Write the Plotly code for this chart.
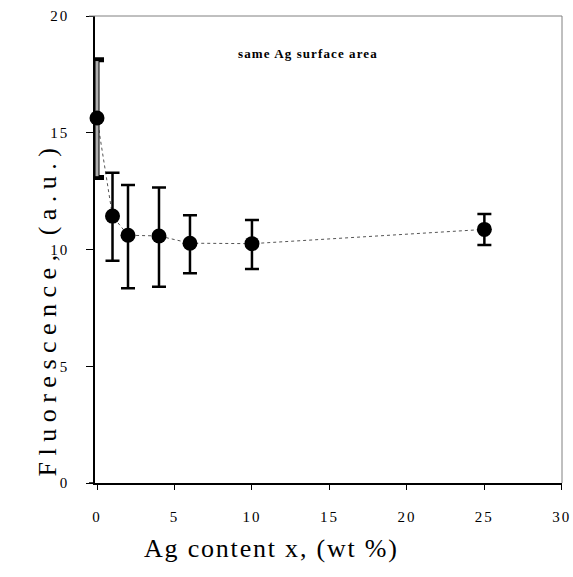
import plotly.graph_objects as go

ag_content = [0, 1, 2, 4, 6, 10, 25]
fluorescence = [15.63, 11.43, 10.61, 10.58, 10.27, 10.25, 10.86]
err_plus = [2.5, 1.86, 2.15, 2.08, 1.2, 1.01, 0.66]
err_minus = [2.55, 1.91, 2.27, 2.17, 1.29, 1.09, 0.67]

x_ticks = [0, 5, 10, 15, 20, 25, 30]
y_ticks = [0, 5, 10, 15, 20]

serif = "Liberation Serif, Times New Roman, serif"


def spaced(s, px):
    return f'<span style="letter-spacing:{px}px">{s}</span>'


fig = go.Figure()

# dotted connecting line
fig.add_trace(go.Scatter(
    x=ag_content, y=fluorescence, mode="lines",
    line=dict(color="#555555", width=1, dash="dot"),
    hoverinfo="skip", showlegend=False))

# first bar sits on the y axis -> grey bar with black edges, clipped at the axis
fig.add_trace(go.Scatter(
    x=ag_content[:1], y=fluorescence[:1], mode="markers",
    marker=dict(color="rgba(0,0,0,0)", size=1),
    error_y=dict(type="data", symmetric=False, array=err_plus[:1], arrayminus=err_minus[:1],
                 color="black", thickness=5, width=7),
    hoverinfo="skip", showlegend=False))
fig.add_trace(go.Scatter(
    x=ag_content[:1], y=fluorescence[:1], mode="markers",
    marker=dict(color="rgba(0,0,0,0)", size=1),
    error_y=dict(type="data", symmetric=False, array=[err_plus[0] - 0.06],
                 arrayminus=[err_minus[0] - 0.06],
                 color="#b0b0b0", thickness=3, width=0),
    hoverinfo="skip", showlegend=False))

# error bars + markers
fig.add_trace(go.Scatter(
    x=ag_content[1:], y=fluorescence[1:], mode="markers",
    marker=dict(color="black", size=15),
    error_y=dict(type="data", symmetric=False, array=err_plus[1:], arrayminus=err_minus[1:],
                 color="black", thickness=2.5, width=7),
    showlegend=False))
fig.add_trace(go.Scatter(
    x=ag_content[:1], y=fluorescence[:1], mode="markers",
    marker=dict(color="black", size=15), cliponaxis=False, showlegend=False))

fig.update_layout(
    width=573, height=577,
    margin=dict(l=95, r=11, t=16, b=94),
    plot_bgcolor="white", paper_bgcolor="white",
    font=dict(family=serif, color="black", size=15),
    xaxis=dict(range=[-0.13, 30.01], tickvals=x_ticks,
               ticktext=[spaced(v, 2) for v in x_ticks],
               ticks="outside", ticklen=5, automargin=False,
               tickcolor="black", showline=True, linecolor="black", linewidth=1.5,
               showgrid=False, zeroline=False, ticklabelstandoff=14),
    yaxis=dict(range=[0, 20], tickvals=y_ticks,
               ticktext=[spaced(v, 2) for v in y_ticks],
               ticks="outside", ticklen=7, automargin=False,
               tickcolor="black", showline=True, linecolor="black", linewidth=1.5,
               showgrid=False, zeroline=False, ticklabelstandoff=14),
)

ext = -6 / 467
fig.add_shape(type="line", xref="paper", yref="paper", x0=ext, x1=1, y0=1, y1=1,
              line=dict(color="#808080", width=1))
fig.add_shape(type="line", xref="paper", yref="paper", x0=1, x1=1, y0=0, y1=1,
              line=dict(color="#808080", width=1))
fig.add_shape(type="line", xref="paper", yref="paper", x0=ext, x1=0, y0=0, y1=0,
              line=dict(color="black", width=1.5))

fig.add_annotation(text="<b>" + spaced("same Ag surface area", 1.1) + "</b>",
                   xref="paper", yref="paper",
                   x=(308 - 95) / 467, y=(483 - 44) / 467, showarrow=False,
                   font=dict(size=13, family=serif))
fig.add_annotation(text=spaced("Ag content x, (wt %)", 1.8), xref="paper", yref="paper",
                   x=(271 - 95) / 467, y=(483 - 565) / 467, showarrow=False,
                   font=dict(size=26, family=serif))
fig.add_annotation(text=spaced("Fluorescence, (a.u.)", 6.5), xref="paper", yref="paper",
                   x=(30 - 95) / 467, y=(483 - 309) / 467, showarrow=False,
                   textangle=-90, font=dict(size=26, family=serif))

# no page margin around the figure
fig.write_html("out.html", config={"displayModeBar": False},
               post_script="document.body.style.margin='0';")
